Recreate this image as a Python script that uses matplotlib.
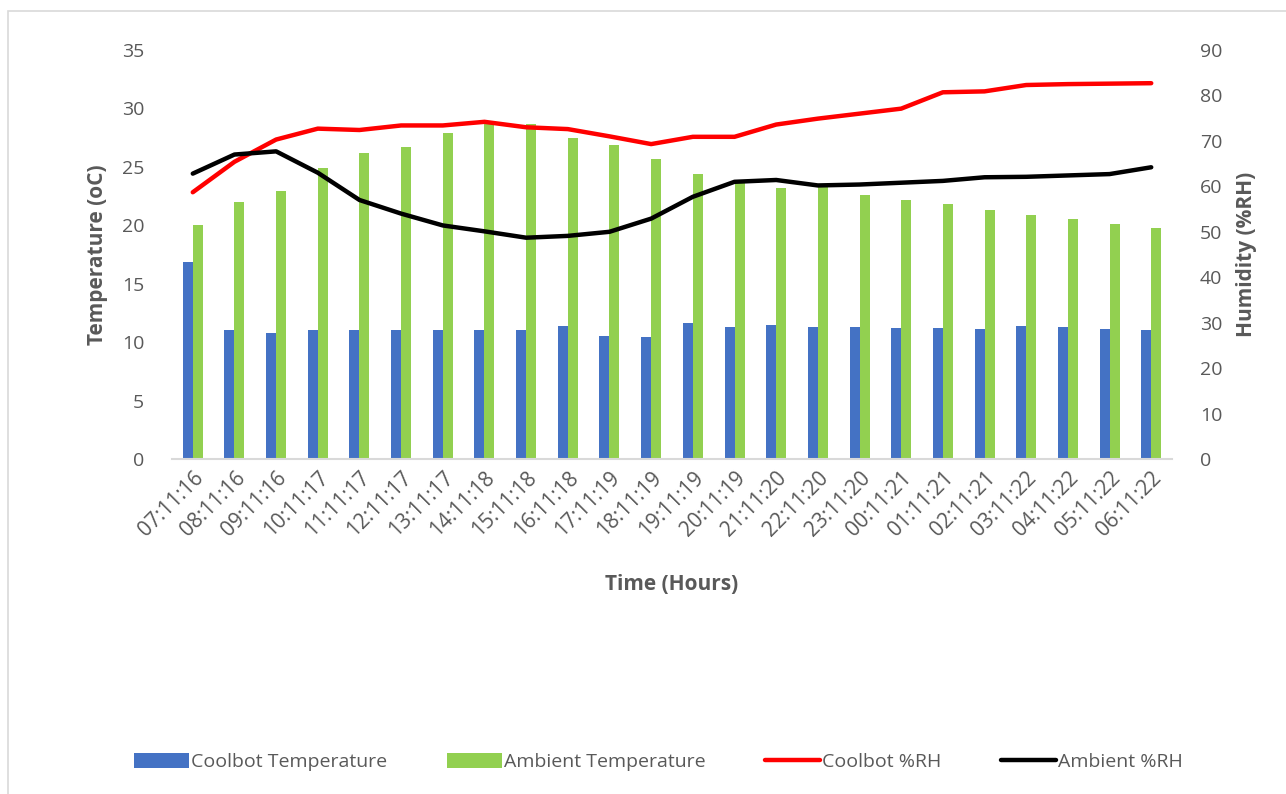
import matplotlib.pyplot as plt
import numpy as np
from matplotlib.patches import Rectangle

times = ['07:11:16', '08:11:16', '09:11:16', '10:11:17', '11:11:17', '12:11:17',
         '13:11:17', '14:11:18', '15:11:18', '16:11:18', '17:11:19', '18:11:19',
         '19:11:19', '20:11:19', '21:11:20', '22:11:20', '23:11:20', '00:11:21',
         '01:11:21', '02:11:21', '03:11:22', '04:11:22', '05:11:22', '06:11:22']

coolbot_temp = [16.9, 11.0, 10.8, 11.0, 11.0, 11.05, 11.05, 11.05, 11.0, 11.35, 10.5, 10.4,
                11.6, 11.3, 11.5, 11.3, 11.3, 11.2, 11.2, 11.1, 11.4, 11.3, 11.1, 11.0]
ambient_temp = [20.0, 22.0, 22.9, 24.9, 26.2, 26.7, 27.9, 28.7, 28.7, 27.5, 26.9, 25.7,
                24.4, 23.7, 23.2, 23.4, 22.6, 22.2, 21.8, 21.3, 20.9, 20.5, 20.1, 19.8]
coolbot_rh = [58.7, 65.4, 70.3, 72.7, 72.4, 73.4, 73.4, 74.2, 73.0, 72.6, 71.0, 69.3,
              70.9, 70.9, 73.6, 74.9, 76.0, 77.1, 80.7, 80.9, 82.3, 82.5, 82.6, 82.7]
ambient_rh = [62.8, 67.0, 67.7, 63.0, 57.0, 54.0, 51.4, 50.1, 48.7, 49.1, 50.0, 52.9,
              57.7, 61.0, 61.4, 60.2, 60.4, 60.8, 61.2, 62.0, 62.1, 62.4, 62.7, 64.2]

plt.rcParams['font.family'] = ['Open Sans', 'DejaVu Sans']
grey = '#595959'

fig = plt.figure(figsize=(12.86, 7.94), dpi=100)
ax = fig.add_axes([0.1337, 0.4219, 0.7777, 0.5151])
ax2 = ax.twinx()

x = np.arange(len(times))
w = 0.24
ax.bar(x - w / 2, coolbot_temp, w, color='#4472C4', label='Coolbot Temperature')
ax.bar(x + w / 2, ambient_temp, w, color='#92D050', label='Ambient Temperature')
ax2.plot(x, coolbot_rh, color='#FF0000', lw=3.2, label='Coolbot %RH', solid_capstyle='round')
ax2.plot(x, ambient_rh, color='#000000', lw=3.2, label='Ambient %RH', solid_capstyle='round')

ax.set_xlim(-0.5, len(times) - 0.5)
ax.set_ylim(0, 35)
ax.set_yticks(range(0, 36, 5))
ax2.set_ylim(0, 90)
ax2.set_yticks(range(0, 91, 10))

ax.set_xticks(x)
ax.set_xticklabels(times, rotation=45, ha='right', rotation_mode='anchor')

for a in (ax, ax2):
    for s in a.spines.values():
        s.set_visible(False)
    a.tick_params(length=0, labelsize=14, colors=grey)
ax.spines['bottom'].set_visible(True)
ax.spines['bottom'].set_color('#D9D9D9')
ax.spines['bottom'].set_linewidth(1.5)
ax.tick_params(axis='y', pad=20)
ax2.tick_params(axis='y', pad=20)
ax.tick_params(axis='x', pad=6, labelsize=15)

ax.set_ylabel('Temperature (oC)', fontsize=15, fontweight='bold', color=grey, labelpad=10)
ax2.set_ylabel('Humidity (%RH)', fontsize=15, fontweight='bold', color=grey, labelpad=10)
ax.set_xlabel('Time (Hours)', fontsize=15, fontweight='bold', color=grey, labelpad=24)

h1, l1 = ax.get_legend_handles_labels()
h2, l2 = ax2.get_legend_handles_labels()
fig.legend(h1 + h2, l1 + l2, loc='center', bbox_to_anchor=(0.512, 0.04), ncol=4,
           frameon=False, fontsize=14, labelcolor=grey, handlelength=2.8,
           handleheight=0.8, handletextpad=0.1, columnspacing=3.1)

fig.patches.append(Rectangle((8 / 1286, -0.02), 1.1, 0.986 + 0.02, transform=fig.transFigure,
                             fill=False, edgecolor='#D9D9D9', lw=1.2))

plt.savefig('out.png', dpi=100)
